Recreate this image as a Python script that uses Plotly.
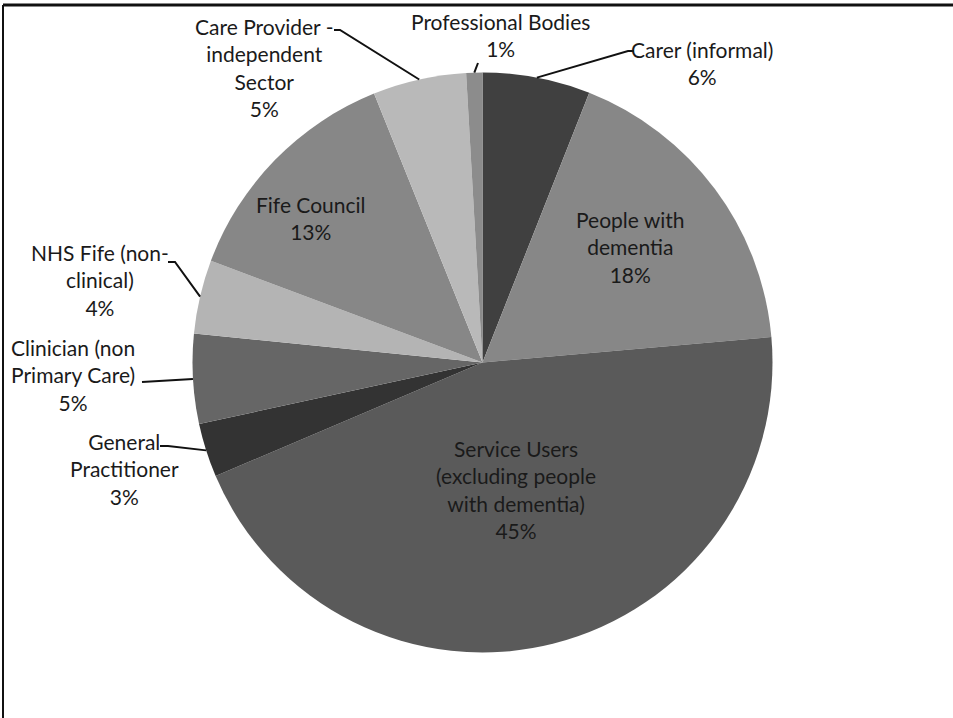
import math
import plotly.graph_objects as go

# ---- data ----
categories = [
    "Carer (informal)",
    "People with dementia",
    "Service Users (excluding people with dementia)",
    "General Practitioner",
    "Clinician (non Primary Care)",
    "NHS Fife (non-clinical)",
    "Fife Council",
    "Care Provider - independent Sector",
    "Professional Bodies",
]
shares = [6.0, 17.6, 45.0, 3.0, 5.0, 4.1, 13.2, 5.2, 0.9]
label_text = [
    "Carer (informal)",
    "People with<br>dementia",
    "Service Users<br>(excluding people<br>with dementia)",
    "General<br>Practitioner",
    "Clinician (non<br>Primary Care)",
    "NHS Fife (non-<br>clinical)",
    "Fife Council",
    "Care Provider -<br>independent<br>Sector",
    "Professional Bodies",
]

# ---- styling / placement ----
W, H = 953, 718
colors = ["#404040", "#878787", "#5a5a5a", "#333333", "#666666",
          "#b4b4b4", "#878787", "#b9b9b9", "#8c8c8c"]
CX, CY, R = 482.5, 362.5, 290.0  # pie centre / radius in px
# label block centres (px) and leader points from label side (px)
label_pos = [(702, 63), (630, 247), (516, 489), (124, 469), (73, 375),
             (100, 280), (311, 218), (264, 67), (500, 35)]
leaders = [
    [(634, 51), (628, 51)],
    None,
    None,
    [(160, 446), (168, 446)],
    [(142, 382)],
    [(168, 262), (175, 262)],
    None,
    [(334, 30), (340, 30)],
    [(478, 63)],
]


def px(x, y):
    return x / W, 1 - y / H


fig = go.Figure()
fig.add_trace(go.Pie(
    labels=categories,
    values=shares,
    sort=False,
    direction="clockwise",
    rotation=0,
    marker=dict(colors=colors, line=dict(width=0)),
    textinfo="none",
    hoverinfo="skip",
    showlegend=False,
    domain=dict(x=[(CX - R) / W, (CX + R) / W],
                y=[1 - (CY + R) / H, 1 - (CY - R) / H]),
))

total = sum(shares)
cum = 0.0
annotations = []
shapes = []
for i, v in enumerate(shares):
    mid = (cum + v / 2) / total * 2 * math.pi
    cum += v
    ex, ey = CX + R * math.sin(mid), CY - R * math.cos(mid)
    lx, ly = label_pos[i]
    ax_, ay_ = px(lx, ly)
    annotations.append(dict(
        x=ax_, y=ay_, xref="paper", yref="paper",
        text=f"{label_text[i]}<br>{round(v)}%",
        showarrow=False, xanchor="center", yanchor="middle", align="center",
        font=dict(family="Lato, Carlito, sans-serif", size=21, color="#1a1a1a"),
    ))
    if leaders[i]:
        pts = leaders[i] + [(ex, ey)]
        path = ""
        for k, (x, y) in enumerate(pts):
            qx, qy = px(x, y)
            path += ("M" if k == 0 else " L") + f"{qx:.5f},{qy:.5f}"
        shapes.append(dict(type="path", path=path, xref="paper", yref="paper",
                           line=dict(color="#111111", width=2)))

# frame (top and left edges visible)
shapes.append(dict(type="line", xref="paper", yref="paper",
                   x0=3 / W, x1=1, y0=1 - 5 / H, y1=1 - 5 / H,
                   line=dict(color="#111111", width=3)))
shapes.append(dict(type="line", xref="paper", yref="paper",
                   x0=3 / W, x1=3 / W, y0=0, y1=1 - 5 / H,
                   line=dict(color="#111111", width=2)))

fig.update_layout(
    width=W, height=H,
    margin=dict(l=0, r=0, t=0, b=0),
    paper_bgcolor="white",
    plot_bgcolor="white",
    annotations=annotations,
    shapes=shapes,
)
fig.write_html("out.html",
               config={"displayModeBar": False},
               post_script="document.body.style.margin='0';document.body.style.overflow='hidden';")
